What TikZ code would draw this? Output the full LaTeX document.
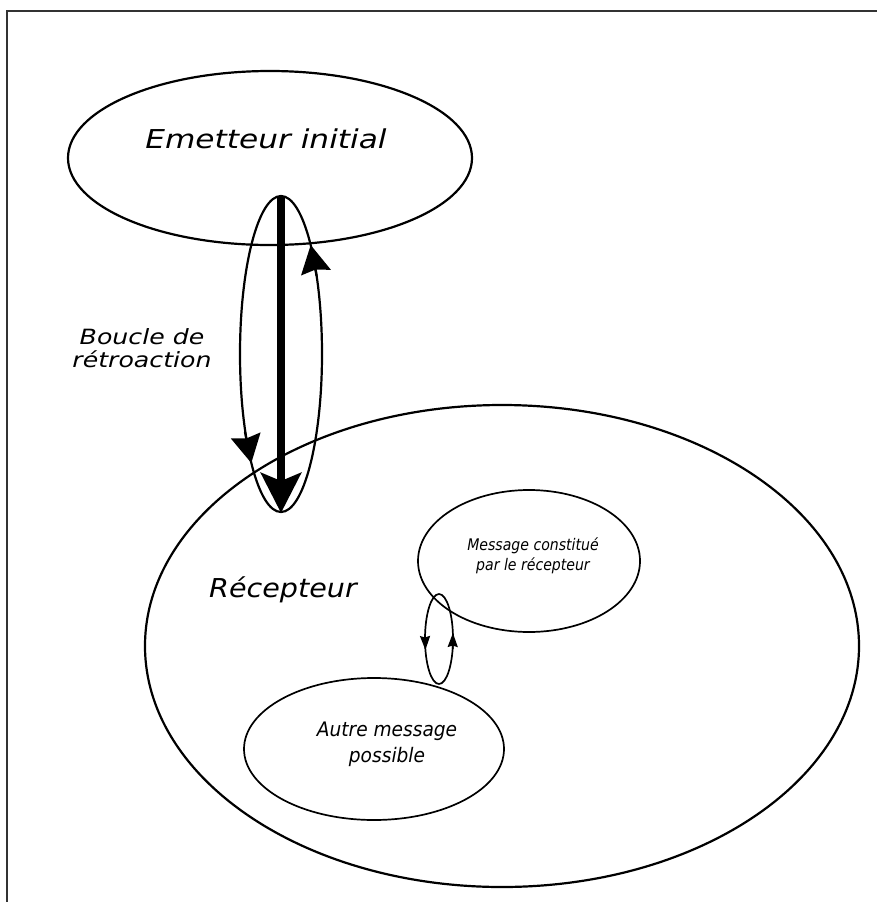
\documentclass[tikz,border=0pt]{standalone}
\usepackage{graphicx}
\usepackage{fontspec}
\newfontfamily\handfont{DejaVu Sans}
\usetikzlibrary{arrows.meta,shapes.geometric}
\begin{document}
\begin{tikzpicture}[x=1pt,y=-1pt,
  oval/.style={draw, ellipse, line width=2.2pt, inner sep=0pt, outer sep=0pt},
  thinoval/.style={oval, line width=1.7pt},
  lbl/.style={align=center, inner sep=0pt},
  bigtip/.style={line width=2.2pt, -{Stealth[length=28pt,width=30pt,inset=3pt]}},
  smalltip/.style={line width=1.7pt, -{Stealth[length=14pt,width=10pt,inset=1.5pt]}},
]
\useasboundingbox (0,0) rectangle (877,902);
\draw[line width=2.2pt, black!80] (7,902) -- (7,11) -- (877,11);

\node[oval, minimum width=404pt, minimum height=174pt] (em) at (270,158) {};
\node[oval, minimum width=714pt, minimum height=482pt] (rec) at (502,646) {};
\node[thinoval, minimum width=222pt, minimum height=142pt] (msg) at (529,561) {};
\node[thinoval, minimum width=260pt, minimum height=142pt] (autre) at (374,749) {};

% feedback loop
\draw[line width=2.2pt] (281,354) ellipse [x radius=41, y radius=158];
\coordinate (la) at (245.0,432);
\coordinate (lb) at (251.3,463);
\coordinate (ra) at (316.6,276);
\coordinate (rb) at (310.7,245);
\draw[bigtip] (la) -- (lb);
\draw[bigtip] (ra) -- (rb);

\coordinate (ta) at (281,197);
\coordinate (tb) at (281,513);
\draw[line width=8pt, -{Stealth[length=40pt,width=40pt,inset=8pt]}] (ta) -- (tb);

% small loop
\draw[line width=1.7pt] (439,639) ellipse [x radius=14, y radius=45];
\coordinate (sla) at (425.0,634);
\coordinate (slb) at (425.4,650);
\coordinate (sra) at (452.7,649);
\coordinate (srb) at (452.9,633);
\draw[smalltip] (sla) -- (slb);
\draw[smalltip] (sra) -- (srb);

\node[lbl, anchor=base, font=\fontsize{26}{30}\selectfont\handfont\itshape] (t1) at (266,148) {\scalebox{1.2}[1]{Emetteur initial}};
\node[lbl, font=\fontsize{21}{23}\selectfont\handfont\itshape] (t2) at (142,348) {\scalebox{1.2}[1]{Boucle de}\\\scalebox{1.2}[1]{rétroaction}};
\node[lbl, anchor=base, font=\fontsize{26}{30}\selectfont\handfont\itshape] (t3) at (283,597) {\scalebox{1.1}[1]{Récepteur}};
\node[lbl, font=\fontsize{16}{20}\selectfont\handfont\itshape] (t4) at (533,556) {\scalebox{0.88}[1]{Message constitué}\\\scalebox{0.88}[1]{par le récepteur}};
\node[lbl, font=\fontsize{20}{26}\selectfont\handfont\itshape] (t5) at (387,744) {\scalebox{0.93}[1]{Autre message}\\\scalebox{0.93}[1]{possible}};
\end{tikzpicture}
\end{document}
